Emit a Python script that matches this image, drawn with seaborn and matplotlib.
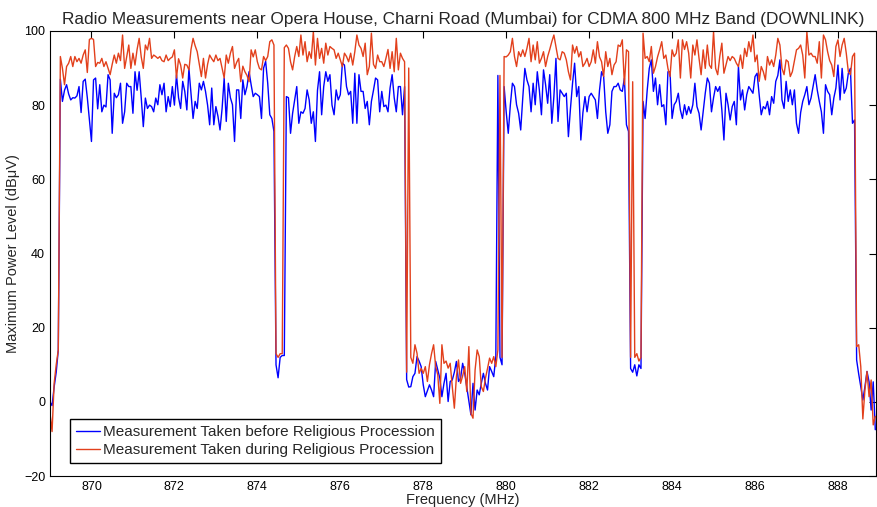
import numpy as np
import pandas as pd
import matplotlib
matplotlib.use("Agg")
import matplotlib.pyplot as plt
import seaborn as sns

# sweep segments, 0.05 MHz steps from 869.00 MHz
# before procession (blue)
before_a = [0, -1, 4, 8, 14,
            87, 81, 84, 85.5, 83, 81.4, 82, 81.9, 82.5, 85,
            78, 86.4, 87, 82, 76, 70.2, 86.8, 87.3, 79, 85.5,
            78.2, 80, 79.5, 88.2, 86.8, 72.4, 83.2, 82, 82.8, 85.9,
            75.1, 78.2, 85.9, 85, 85, 77.8, 89, 84, 89, 82,
            74.2, 81.9, 79.1, 80, 79.6, 78.2, 81.9, 80.1, 85.5, 82.8,
            85.9, 78.2, 82.3, 79.6, 85, 80, 88.2, 82, 79.1, 86.4,
            83.7, 78.7, 89.9, 83, 76.4, 81, 79.1, 85.9, 84.1, 86.4,
            83.7, 80, 74.7, 84.6, 74.7, 79.6, 77, 73.3, 79.1, 87.3,
            75.6, 85.9, 82, 80.1, 70.2, 84.1, 84.1, 76.4, 86.8, 82.8,
            85, 89, 85.5, 82.3, 83.2, 82.8, 82.3, 76.4, 90, 91.8,
            85.9, 77.4, 76.4, 72.9]
before_b = [10, 6.5, 12, 12.5, 12.5]
before_c = [82.3, 82.0, 72.4, 77.8, 81.5, 85.0, 75.1, 78.2, 77.8, 79.1,
            84.1, 81.4, 75.1, 78.2, 70.2, 84, 89.0, 77.4, 85.0, 89.0,
            86.4, 88.2, 80.0, 77.4, 84.1, 81.4, 82.8, 91.3, 90.8, 85.0,
            82.8, 83.7, 75.1, 88.6, 75.1, 88.2, 83.7, 83.7, 79.1, 81.0,
            74.7, 81.0, 84.0, 87.3, 86.8, 78.2, 83.7, 79.6, 80.0, 78.2,
            84.6, 88.2, 82.0, 78.2, 85.0, 85.0, 77.4, 85.0]
before_d = [6, 4, 4.1, 6.8, 7.7, 12.2, 11, 9.5, 4.6, 1.4,
            3, 4.6, 3.2, 1.4, 10.9, 8.6, 6.4, 1.4, 5, 7.7,
            0.1, 5.5, 5.9, 8, 10.9, 5.5, 6.4, 10.4, 7.7, 4,
            0.1, -3.5, 5.0, -2.2, 3.2, 1.9, 5, 7.7, 5.0, 3.2,
            9.5, 8.2, 6.8, 12.2, 88, 12, 10]
before_e = [85.0, 78.2, 72.4, 80, 85.9, 85.0, 80.1, 77.8, 73.3, 82,
            89.9, 86.8, 85.0, 78.2, 85.9, 80.1, 89.0, 84, 77.4, 89.5,
            85.5, 80.5, 88.2, 75.1, 82.3, 92.6, 75.6, 84.1, 83.2, 82.3,
            83.2, 71.5, 79.1, 85.9, 91.3, 82.3, 85.0, 70.6, 78, 82.3,
            78.2, 82.3, 83.2, 82.3, 81.4, 76.4, 84, 89.0, 87.7, 78.2,
            72.4, 74.7, 83.7, 85.0, 85.0, 85.9, 84.1, 83.7, 87.3, 74.7,
            72.9]
before_f = [9, 8, 10, 7, 10, 9]
before_g = [81.0, 76.4, 84, 89.9, 92.2, 83.7, 87.3, 80.1, 85.5, 79.6,
            80.1, 74.7, 89.0, 89.0, 76.4, 80.1, 81.0, 83.2, 78.7, 76.4,
            80.1, 77.4, 79.6, 77.8, 80.1, 85.9, 79.6, 77.8, 73.3, 78.2,
            83.2, 87.3, 85.9, 78.2, 82, 85.0, 83.7, 85.0, 78.7, 70.6,
            83.2, 80.1, 76.0, 79.6, 81.0, 74.7, 90.4, 81.4, 84.1, 78.7,
            82.8, 85.0, 84.1, 83.2, 87.7, 88.6, 82.8, 77.4, 79.6, 79,
            81.0, 77.4, 82.3, 80.5, 86.4, 88, 92.2, 81.4, 79.1, 86.4,
            81.0, 84.1, 80.1, 84.1, 75.1, 72.4, 78, 81.0, 82.8, 85.0,
            80.1, 81.9, 85, 88.2, 84.1, 81.0, 78.2, 72.4, 85.5, 83.7,
            82.8, 77.4, 81.9, 84.6, 90.8, 81.4, 89.9, 83.2, 84.6, 88.6,
            89.9, 75.1, 76.0]
before_h = [11.3, 7.5, 4.1, 0.5, 4.1, 8.2, 5.4, -2.2, 5.4, -7.5]

# during procession (red)
during_a = [-3, -8, 5, 10, 14,
            93.1, 89.9, 85.5, 90.4, 91.3, 93.1, 90.4, 93.1, 91.7, 92.6,
            91.3, 93.5, 94.9, 88.8, 97.7, 98.0, 97.7, 90.4, 91.5, 91.3,
            92.6, 90.4, 91.7, 89.9, 88.2, 91.0, 93.5, 91.3, 94.0, 92.0,
            98.9, 89.9, 93.0, 96.2, 89.9, 94.0, 90.8, 95.0, 98.0, 93.0,
            89.9, 96.2, 94.9, 98.0, 92.6, 93.5, 93.1, 92.6, 93.1, 92.0,
            91.7, 93.5, 92.0, 92.6, 93.0, 94.9, 87.3, 92.5, 90.8, 87.3,
            91.0, 90.8, 89.5, 95.0, 98.0, 96.0, 94.4, 91.0, 87.7, 92.6,
            87.3, 91.0, 93.5, 92.5, 91.7, 93.5, 92.0, 92.6, 90.0, 87.3,
            93.5, 91.3, 94.0, 95.8, 89.9, 91.5, 92.6, 86.3, 90.5, 89.0,
            88.0, 86.3, 94.9, 93.0, 94.9, 91.7, 89.9, 89.5, 93.1, 92.0,
            93.1, 97.1, 97.6, 96.2]
during_b = [13, 12, 13, 13, 95.5]
during_c = [96.2, 95.3, 91.7, 89.5, 93.1, 95.8, 93.1, 98.9, 93.5, 97.1,
            91.7, 94.4, 92.6, 99.8, 90.8, 98.0, 92.6, 95.3, 91.3, 96.7,
            93.5, 95.8, 95.3, 94.9, 92.6, 94.0, 92.2, 90.4, 94.0, 93.1,
            91.7, 94.0, 90.8, 94.4, 98.9, 96.2, 95.3, 93.1, 96.7, 88.2,
            90.4, 99.4, 91.0, 89.9, 93.5, 91.7, 91.7, 90.4, 92.6, 95.0,
            89.9, 94.4, 89.0, 98.0, 89.5, 94.0, 92.6, 91.7]
during_d = [8, 90, 12, 10.4, 15.4, 13.1, 7.7, 9.0, 7.7, 9.5,
            5.5, 10.0, 13, 15.4, 9.5, 7.3, -0.4, 15.4, 10.4, 11,
            9.1, 10.4, 4.1, -1.7, 6.8, 11.3, 5.0, 7, 9.5, 2.8,
            14.9, -3.1, -4.4, 8.6, 14.0, 12.2, 4.1, 2.8, 6.4, 9,
            11.8, 10.4, 12.2, 9.5, 14, 88, 12]
during_e = [93.1, 93.0, 93.5, 94.4, 98.0, 93.1, 90.4, 94.4, 93.1, 94.9,
            93.1, 95.3, 98.0, 91.7, 96.2, 92.2, 97.1, 91.3, 92.6, 94.4,
            90.4, 93.1, 95, 97.1, 98.9, 95.8, 92.6, 92.2, 94.4, 94.0,
            92.2, 89.0, 86.8, 96.2, 94.0, 95.8, 93, 94.4, 90.4, 91.3,
            92.6, 90.4, 91.7, 94.9, 91.3, 97.1, 93, 91.7, 87.7, 94.4,
            90.4, 92.6, 88.2, 90.8, 91.7, 96.2, 95.8, 97.6, 85.5, 94.9,
            94.4]
during_f = [12, 86.3, 12, 13, 11, 12]
during_g = [99.4, 92.6, 93.1, 91.7, 95.8, 88.6, 90.4, 93, 94.9, 97.1,
            92.6, 93.5, 89.9, 87.7, 94.9, 93.1, 94.0, 97.6, 87.3, 97.6,
            95, 97.1, 94.0, 87.3, 96.2, 93.5, 97.6, 92.6, 88.2, 94.9,
            89.9, 96.2, 90.8, 89.9, 99.8, 89.9, 88.2, 93.1, 96.7, 88.6,
            90.8, 93.1, 92, 93.1, 92.6, 91.3, 90.4, 93.5, 89.9, 95.3,
            93.1, 97.1, 94.4, 98.9, 91.7, 93.5, 86.4, 90.4, 89.0, 86.8,
            93.1, 90.8, 92.2, 90.4, 93.5, 98.0, 96.2, 89.9, 88.2, 92.2,
            91.7, 87.7, 89.0, 92, 94.9, 95.3, 96.2, 93.5, 87.3, 99.8,
            93.5, 94.0, 93.1, 93.1, 91.3, 97.1, 87.3, 98.9, 97.6, 94.4,
            92, 90.8, 87.7, 95.8, 97.6, 93.1, 96.2, 98.0, 94.0, 89.0,
            88.2, 93.1, 94.0]
during_h = [14.9, 15.4, 9.5, -4.6, 3.2, 8.2, 1.4, 5.9, -6.2, -3.9]

before = np.concatenate([before_a, before_b, before_c, before_d,
                         before_e, before_f, before_g, before_h])
during = np.concatenate([during_a, during_b, during_c, during_d,
                         during_e, during_f, during_g, during_h])
freq = np.round(869.0 + 0.05 * np.arange(len(before)), 2)

lbl_before = 'Measurement Taken before Religious Procession'
lbl_during = 'Measurement Taken during Religious Procession'
df = pd.DataFrame({'freq': freq, lbl_before: before, lbl_during: during})
df_long = df.melt(id_vars='freq', var_name='serie', value_name='level')

sns.set_style('white')
plt.rcParams['font.family'] = ['Liberation Sans', 'DejaVu Sans']

fig = plt.figure(figsize=(8.77, 5.07), dpi=100)
ax = fig.add_axes([0.057, 0.061, 0.942, 0.878])

sns.lineplot(data=df_long, x='freq', y='level', hue='serie',
             palette={lbl_before: '#0000ff', lbl_during: '#e2401c'},
             linewidth=1.0, ax=ax)

ax.set_xlim(869, 888.92)
ax.set_ylim(-20, 100)
ax.set_xticks(np.arange(870, 889, 2))
ax.set_yticks(np.arange(-20, 101, 20))
ax.tick_params(direction='in', length=5, width=0.8, top=True, right=True,
               labelsize=9, colors='black')
for s in ax.spines.values():
    s.set_color('black')
    s.set_linewidth(0.8)

ax.set_title('Radio Measurements near Opera House, Charni Road (Mumbai) for CDMA 800 MHz Band (DOWNLINK)',
             fontsize=12.4, pad=5)
ax.set_xlabel('Frequency (MHz)', fontsize=10.5, labelpad=0)
ax.set_ylabel('Maximum Power Level (dBμV)', fontsize=10.5, labelpad=3)

leg = ax.legend(loc='lower left', bbox_to_anchor=(0.024, 0.029), fontsize=11,
                frameon=True, fancybox=False, framealpha=1, edgecolor='black',
                borderpad=0.4, handlelength=1.6, handletextpad=0.2,
                labelspacing=0.25, borderaxespad=0)
leg.get_frame().set_linewidth(1.0)

fig.savefig('out.png', dpi=100)
